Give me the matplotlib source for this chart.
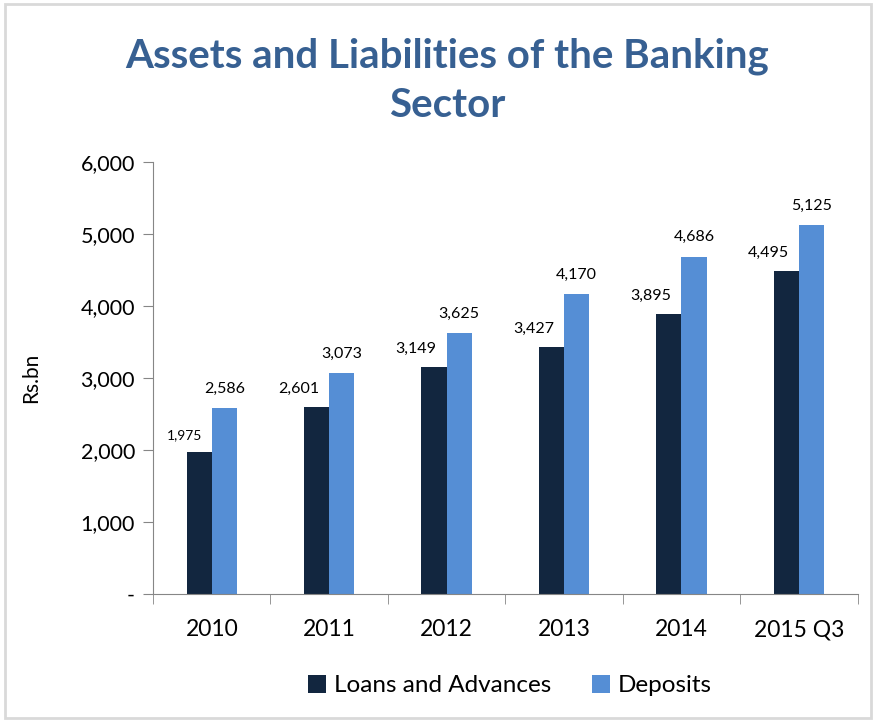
import numpy as np
import matplotlib
matplotlib.use("Agg")
import matplotlib.pyplot as plt
from matplotlib.patches import Rectangle

plt.rcParams['font.family'] = ['Lato', 'DejaVu Sans']

# data
years = ['2010', '2011', '2012', '2013', '2014', '2015 Q3']
loans = [1975, 2601, 3149, 3427, 3895, 4495]
deposits = [2586, 3073, 3625, 4170, 4686, 5125]

dark = '#12263F'
light = '#558ED5'
title_col = '#376092'
axis_col = '#868686'

fig = plt.figure(figsize=(8.76, 7.21), dpi=100)
ax = fig.add_axes([0.1747, 0.176, 0.8043, 0.599])

x = np.arange(len(years))
w = 0.215
b1 = ax.bar(x - w / 2, loans, w, color=dark, label='Loans and Advances')
b2 = ax.bar(x + w / 2, deposits, w, color=light, label='Deposits')

# data labels
for i in range(len(years)):
    fs = 10 if i == 0 else 11.5
    ax.annotate(f'{loans[i]:,}', (x[i] - w / 2, loans[i]), xytext=(2, 8),
                textcoords='offset points', ha='right', va='bottom', fontsize=fs)
    ax.annotate(f'{deposits[i]:,}', (x[i] + w / 2, deposits[i]), xytext=(0, 9),
                textcoords='offset points', ha='center', va='bottom', fontsize=11.5)

ax.set_xlim(-0.5, len(years) - 0.5)
ax.set_ylim(0, 6000)
ax.set_yticks(range(0, 6001, 1000))
ax.set_yticklabels(['-'] + [f'{v:,}' for v in range(1000, 6001, 1000)])
ax.set_xticks(x)
ax.set_xticklabels(years)
ax.set_xticks(np.arange(-0.5, len(years), 1), minor=True)
ax.tick_params(axis='x', which='major', length=0, pad=18, labelsize=16.5)
ax.tick_params(axis='x', which='minor', length=7, color=axis_col, direction='out')
ax.tick_params(axis='y', length=7, color=axis_col, labelsize=15.5, pad=6)

for s in ['top', 'right']:
    ax.spines[s].set_visible(False)
for s in ['left', 'bottom']:
    ax.spines[s].set_color(axis_col)

ax.set_ylabel('Rs.bn', fontsize=15, labelpad=28)

fig.text(0.51, 0.922, 'Assets and Liabilities of the Banking', ha='center', va='center',
         fontsize=29, fontweight='bold', color=title_col)
fig.text(0.51, 0.853, 'Sector', ha='center', va='center',
         fontsize=29, fontweight='bold', color=title_col)

fig.legend(handles=[b1, b2], loc='center', bbox_to_anchor=(0.582, 0.049), ncol=2,
           frameon=False, fontsize=17.5, handlelength=0.75, handleheight=0.75,
           columnspacing=1.7, handletextpad=0.3)

fig.patches.append(Rectangle((0.006, 0.004), 0.988, 0.99, transform=fig.transFigure,
                             fill=False, edgecolor='#D9D9D9', linewidth=2))

fig.savefig('out.png', dpi=100)
